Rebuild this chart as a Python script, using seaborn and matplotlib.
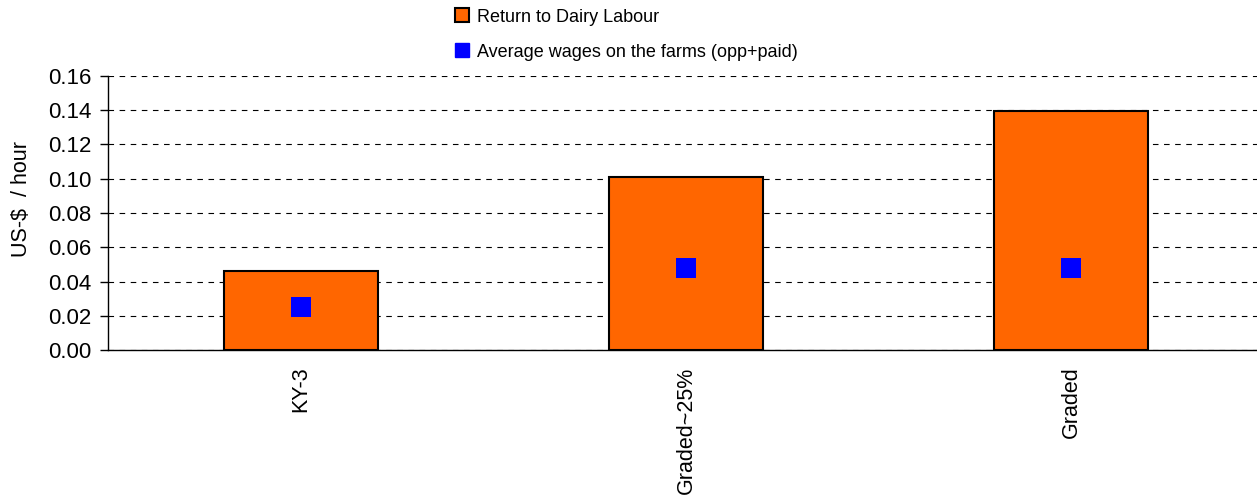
import pandas as pd
import matplotlib
matplotlib.use("Agg")
import matplotlib.pyplot as plt
from matplotlib.lines import Line2D
import seaborn as sns

# values
systems = ["KY-3", "Graded~25%", "Graded"]
return_labour = [0.046, 0.101, 0.1395]
avg_wages = [0.025, 0.048, 0.048]

df = pd.DataFrame({"system": systems, "return": return_labour, "wages": avg_wages})

sns.set_style("white")
plt.rcParams['font.family'] = ['Liberation Sans', 'DejaVu Sans']
plt.rcParams['text.color'] = 'black'
plt.rcParams['axes.labelcolor'] = 'black'
plt.rcParams['xtick.color'] = 'black'
plt.rcParams['ytick.color'] = 'black'

fig = plt.figure(figsize=(12.57, 5), dpi=100)
# axes runs past the right edge, like the original
ax = fig.add_axes([108 / 1257, 150 / 500, 1156 / 1257, 274 / 500])

sns.barplot(data=df, x="system", y="return", color="#FF6600", width=0.4,
            edgecolor="black", linewidth=1.5, saturation=1, ax=ax, zorder=2)
sns.scatterplot(data=df, x="system", y="wages", marker="s", s=200, color="#0000FF",
                edgecolor="#0000FF", linewidth=0, ax=ax, zorder=3)

ax.set_xlim(-0.5, 2.5)
ax.set_ylim(0, 0.16)
ax.set_yticks([i * 0.02 for i in range(9)])
ax.set_yticklabels([f"{i * 0.02:.2f}" for i in range(9)], fontsize=16)
ax.yaxis.grid(True, color="black", linestyle=(0, (5, 5)), linewidth=0.8)
ax.set_axisbelow(True)

ax.set_xticks([0, 1, 2])
ax.set_xticklabels(systems, rotation=90, fontsize=15.5)
ax.set_xticks([0.5, 1.5], minor=True)
ax.tick_params(axis="x", which="major", length=0, pad=12)
ax.tick_params(axis="x", which="minor", length=6, width=1, color="black", direction="out")
ax.tick_params(axis="y", length=6, width=1, color="black", direction="out", left=True, pad=6)

for s in ["top", "right"]:
    ax.spines[s].set_visible(False)
for s in ["left", "bottom"]:
    ax.spines[s].set_color("black")
    ax.spines[s].set_linewidth(1)

ax.set_xlabel("")
ax.set_ylabel("US-$  / hour", fontsize=15.5)
ax.yaxis.set_label_coords(-0.066, 0.55)

handles = [
    Line2D([], [], marker="s", linestyle="none", markersize=10,
           markerfacecolor="#FF6600", markeredgecolor="black", markeredgewidth=1.5),
    Line2D([], [], marker="s", linestyle="none", markersize=10,
           markerfacecolor="#0000FF", markeredgecolor="#0000FF"),
]
fig.legend(handles, ["Return to Dairy Labour", "Average wages on the farms (opp+paid)"],
           loc="upper left", bbox_to_anchor=(439 / 1257, 1.015), frameon=False,
           fontsize=13, handlelength=0.8, handletextpad=0.4, labelspacing=1.0)

fig.savefig("out.png", dpi=100)
